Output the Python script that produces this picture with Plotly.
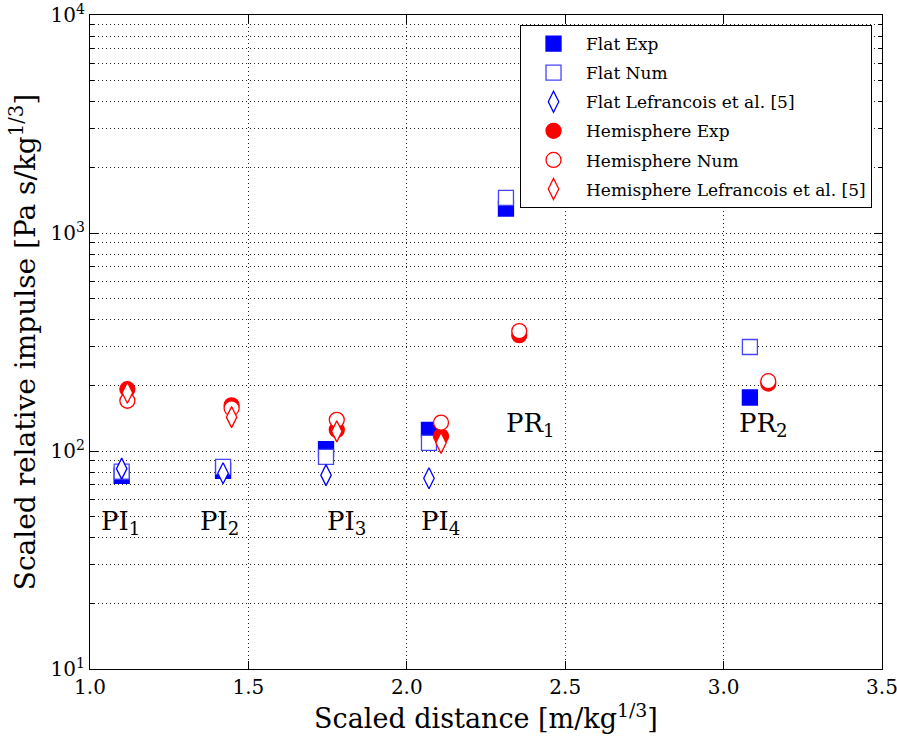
import math
import plotly.graph_objects as go

# ---- data ----
flat_exp_x = [1.10, 1.42, 1.745, 2.07, 2.313, 3.083]
flat_exp_y = [77, 81, 102, 125, 1295, 176]
flat_num_x = [1.10, 1.42, 1.745, 2.07, 2.313, 3.083]
flat_num_y = [80.5, 84.5, 94, 109, 1450, 300]
flat_lef_x = [1.10, 1.42, 1.745, 2.07]
flat_lef_y = [83, 79, 77.5, 75]
hemi_exp_x = [1.118, 1.447, 1.779, 2.108, 2.355, 3.141]
hemi_exp_y = [192, 162, 125, 117, 340, 204]
hemi_num_x = [1.118, 1.447, 1.779, 2.108, 2.355, 3.141]
hemi_num_y = [170, 157, 139, 135, 355, 209]
hemi_lef_x = [1.118, 1.447, 1.779, 2.108]
hemi_lef_y = [185, 143, 123, 109]

label_text = ["PI<sub>1</sub>", "PI<sub>2</sub>", "PI<sub>3</sub>", "PI<sub>4</sub>",
              "PR<sub>1</sub>", "PR<sub>2</sub>"]
label_x = [1.095, 1.41, 1.811, 2.105, 2.39, 3.125]
label_y = [47, 47, 47, 47, 132, 132]

x_ticks = [1.0, 1.5, 2.0, 2.5, 3.0, 3.5]
y_tickvals = [10, 100, 1000, 10000]
y_ticktext = ["10<sup>1</sup>", "10<sup>2</sup>", "10<sup>3</sup>", "10<sup>4</sup>"]

FONT = "DejaVu Serif, Liberation Serif, serif"

fig = go.Figure()

def add(name, xs, ys, symbol, color, fill, size, group):
    fig.add_trace(go.Scatter(
        x=xs, y=ys, mode="markers", name=name, legendgroup=group,
        marker=dict(symbol=symbol, size=size, color=fill,
                    line=dict(color=color, width=1.3)),
    ))

add("Flat Exp", flat_exp_x, flat_exp_y, "square", "blue", "blue", 15, "a")
add("Flat Num", flat_num_x, flat_num_y, "square", "#4545ff", "white", 15, "b")
add("Flat Lefrancois et al. [5]", flat_lef_x, flat_lef_y, "diamond-tall", "blue", "white", 15, "c")
add("Hemisphere Exp", hemi_exp_x, hemi_exp_y, "circle", "red", "red", 15, "d")
add("Hemisphere Num", hemi_num_x, hemi_num_y, "circle", "red", "white", 15, "e")
add("Hemisphere Lefrancois et al. [5]", hemi_lef_x, hemi_lef_y, "diamond-tall", "red", "white", 15, "f")

for t, x, y in zip(label_text, label_x, label_y):
    fig.add_annotation(x=x, y=math.log10(y), text=t, showarrow=False,
                       font=dict(family=FONT, size=26, color="black"))

GRID = dict(showgrid=True, gridcolor="#222", griddash="1px,3px", gridwidth=1)

axis_common = dict(
    showline=True, linecolor="black", linewidth=1.3, mirror="ticks",
    ticks="inside", tickcolor="black", tickwidth=1, ticklen=8,
    zeroline=False, automargin=False, ticklabeloverflow="allow",
    tickfont=dict(family=FONT, size=20, color="black"),
    **GRID,
)

fig.update_xaxes(
    range=[1.0, 3.5], tickvals=x_ticks, ticktext=[f"{v:.1f}" for v in x_ticks],
    title=dict(text="Scaled distance [m/kg<sup>1/3</sup>]",
               font=dict(family=FONT, size=27, color="black"), standoff=8),
    **axis_common,
)
fig.update_yaxes(
    type="log", range=[1, 4], tickvals=y_tickvals, ticktext=y_ticktext,
    title=dict(text="Scaled relative impulse [Pa s/kg<sup>1/3</sup>]",
               font=dict(family=FONT, size=28, color="black"), standoff=6),
    minor=dict(ticks="inside", ticklen=4, tickcolor="black", dtick="D1",
               showgrid=True, gridcolor="#222", griddash="1px,3px", gridwidth=1),
    **axis_common,
)

fig.update_layout(
    width=897, height=745,
    margin=dict(l=90, r=15, t=15, b=76),
    plot_bgcolor="white", paper_bgcolor="white",
    font=dict(family=FONT, color="black"),
    legend=dict(x=0.9874, y=0.9847, xanchor="right", yanchor="top",
                bgcolor="white", bordercolor="black", borderwidth=1,
                font=dict(family=FONT, size=17, color="black"),
                tracegroupgap=4, itemwidth=55),
    showlegend=True,
)

fig.write_html("out.html")
